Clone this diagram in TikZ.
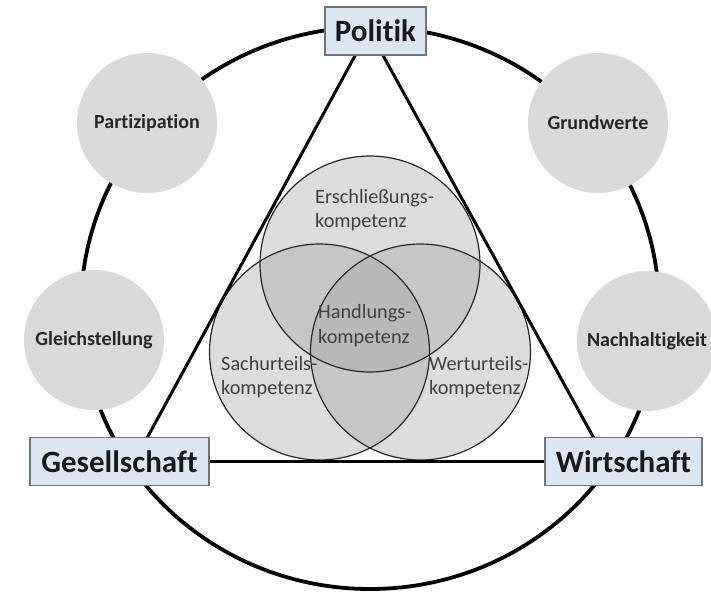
\documentclass[tikz,border=0pt]{standalone}
\usepackage{fontspec}
\setmainfont{Carlito}[Ligatures=NoCommon]
\definecolor{boxfill}{HTML}{DCE6F2}
\definecolor{circfill}{HTML}{D9D9D9}
\definecolor{vsingle}{HTML}{DCDCDC}
\definecolor{vdouble}{HTML}{C6C6C6}
\definecolor{vtriple}{HTML}{B8B8B8}
\begin{document}
\begin{tikzpicture}[x=1pt,y=-1pt,
  lbl/.style={draw=black!55, line width=1.2pt, fill=boxfill, minimum height=48pt, inner sep=0pt,
    font=\fontsize{31}{36}\selectfont\bfseries, text=black!90},
  aspect/.style={circle, fill=circfill, minimum size=140pt, inner sep=0pt,
    font=\fontsize{20}{24}\selectfont\bfseries, text=black!85},
  venntext/.style={anchor=west, align=left, font=\fontsize{20.3}{24.5}\selectfont, text=black!75, inner sep=0pt},
  ring/.style={line width=3.8pt},
  tri/.style={line width=3pt},
  vennline/.style={line width=1.2pt, draw=black!85}]
\useasboundingbox (0,0) rectangle (711,592);
\fill[white] (0,0) rectangle (711,592);

% outer ring
\draw[ring] (370,308) ellipse [x radius=289, y radius=281];

% aspect circles
\node[aspect] (partizipation) at (147,123) {Partizipation};
\node[aspect] (grundwerte) at (598,123) {Grundwerte};
\node[aspect] (gleichstellung) at (94,340) {Gleichstellung};
\node[aspect] (nachhaltigkeit) at (647,341) {Nachhaltigkeit};

% venn diagram
\coordinate (vA) at (370,264);
\coordinate (vB) at (319.5,352);
\coordinate (vC) at (420.5,352);
\def\vrx{110}\def\vry{108}
\fill[vsingle] (vA) ellipse [x radius=\vrx, y radius=\vry];
\fill[vsingle] (vB) ellipse [x radius=\vrx, y radius=\vry];
\fill[vsingle] (vC) ellipse [x radius=\vrx, y radius=\vry];
\begin{scope}
  \clip (vA) ellipse [x radius=\vrx, y radius=\vry];
  \fill[vdouble] (vB) ellipse [x radius=\vrx, y radius=\vry];
  \fill[vdouble] (vC) ellipse [x radius=\vrx, y radius=\vry];
\end{scope}
\begin{scope}
  \clip (vB) ellipse [x radius=\vrx, y radius=\vry];
  \fill[vdouble] (vC) ellipse [x radius=\vrx, y radius=\vry];
\end{scope}
\begin{scope}
  \clip (vA) ellipse [x radius=\vrx, y radius=\vry];
  \clip (vB) ellipse [x radius=\vrx, y radius=\vry];
  \fill[vtriple] (vC) ellipse [x radius=\vrx, y radius=\vry];
\end{scope}
\draw[vennline] (vA) ellipse [x radius=\vrx, y radius=\vry];
\draw[vennline] (vB) ellipse [x radius=\vrx, y radius=\vry];
\draw[vennline] (vC) ellipse [x radius=\vrx, y radius=\vry];

\node[venntext] (erschl) at (315,210) {Erschließungs-\\kompetenz};
\node[venntext] (handl) at (318,325.5) {Handlungs-\\kompetenz};
\node[venntext] (sach) at (221,377) {Sachurteils-\\kompetenz};
\node[venntext] (wert) at (429,377) {Werturteils-\\kompetenz};

% triangle
\coordinate (apex) at (369,30);
\coordinate (tl) at (134,462);
\coordinate (tr) at (607,462);
\draw[tri] (tl) -- (apex) -- (tr);

% boxes
\node[lbl, minimum width=101pt] (politik) at (375.5,31) {Politik};
\node[lbl, minimum width=179pt] (gesellschaft) at (119.5,461.5) {Gesellschaft};
\node[lbl, minimum width=157pt] (wirtschaft) at (623.5,461.5) {Wirtschaft};
\draw[tri] (gesellschaft.east) -- (wirtschaft.west);
\end{tikzpicture}
\end{document}
